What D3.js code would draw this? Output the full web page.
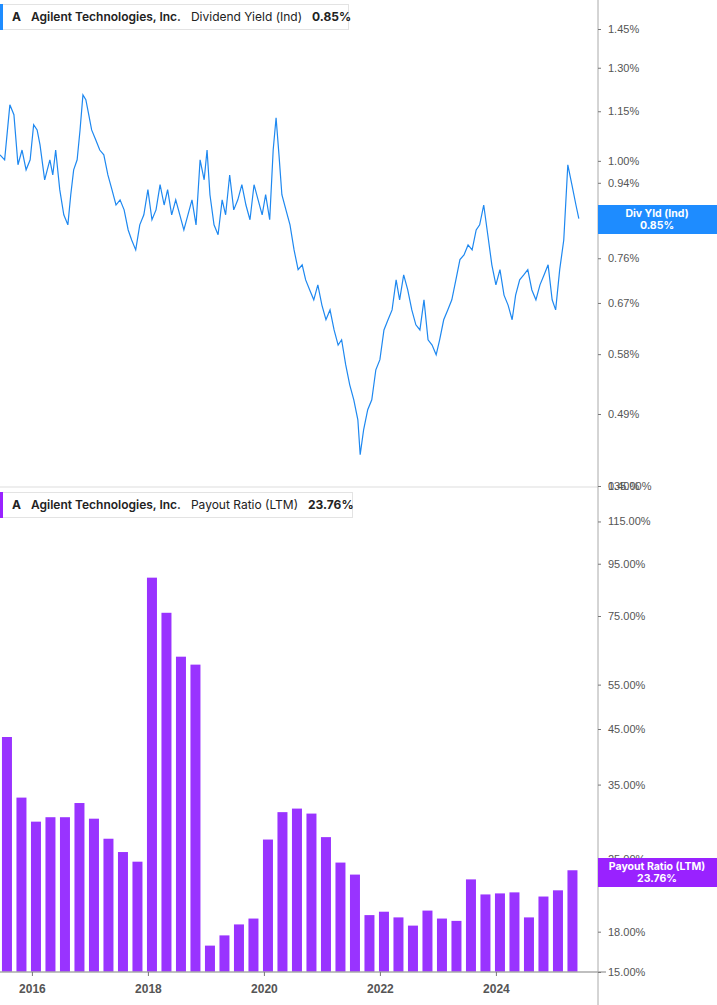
<!DOCTYPE html>
<html><head><meta charset="utf-8">
<script src="https://cdn.jsdelivr.net/npm/d3@7"></script>
<style>body{margin:0;background:#fff;font-family:Inter,"Noto Sans",sans-serif}</style>
</head><body>
<script>
// dividend yield (%), decimal year
const yieldDates = [2015.45,2015.53,2015.62,2015.69,2015.76,2015.83,2015.90,2015.97,2016.03,2016.09,2016.14,2016.22,2016.31,2016.36,2016.41,2016.48,2016.55,2016.62,2016.67,2016.72,2016.78,2016.83,2016.88,2016.93,2016.98,2017.03,2017.10,2017.17,2017.24,2017.31,2017.38,2017.45,2017.52,2017.59,2017.66,2017.72,2017.79,2017.86,2017.93,2018.00,2018.07,2018.14,2018.21,2018.28,2018.34,2018.41,2018.48,2018.55,2018.62,2018.69,2018.76,2018.83,2018.90,2018.97,2019.02,2019.07,2019.14,2019.21,2019.28,2019.34,2019.41,2019.48,2019.55,2019.62,2019.69,2019.76,2019.83,2019.90,2019.97,2020.03,2020.10,2020.16,2020.21,2020.26,2020.31,2020.38,2020.45,2020.52,2020.59,2020.66,2020.72,2020.79,2020.86,2020.93,2021.00,2021.07,2021.14,2021.21,2021.28,2021.34,2021.41,2021.48,2021.55,2021.62,2021.66,2021.72,2021.79,2021.86,2021.93,2022.00,2022.07,2022.14,2022.21,2022.28,2022.34,2022.41,2022.48,2022.55,2022.62,2022.69,2022.76,2022.83,2022.90,2022.97,2023.03,2023.10,2023.17,2023.24,2023.31,2023.38,2023.45,2023.52,2023.59,2023.66,2023.72,2023.79,2023.86,2023.93,2024.00,2024.07,2024.14,2024.21,2024.28,2024.34,2024.41,2024.48,2024.55,2024.62,2024.69,2024.76,2024.83,2024.90,2024.97,2025.03,2025.10,2025.17,2025.24,2025.31,2025.38,2025.43];
const yieldValues = [1.017,1.003,1.171,1.139,0.989,1.031,0.975,1.003,1.107,1.091,1.046,0.948,1.003,0.961,1.031,0.922,0.859,0.835,0.909,0.975,1.003,1.091,1.204,1.188,1.139,1.091,1.061,1.031,1.017,0.961,0.922,0.883,0.896,0.871,0.823,0.800,0.778,0.835,0.859,0.922,0.847,0.871,0.935,0.883,0.922,0.859,0.896,0.859,0.823,0.859,0.896,0.835,1.003,0.948,1.031,0.909,0.835,0.812,0.896,0.859,0.961,0.871,0.896,0.935,0.883,0.847,0.935,0.896,0.859,0.909,0.847,1.031,1.129,1.017,0.909,0.871,0.835,0.778,0.736,0.746,0.715,0.695,0.676,0.705,0.666,0.639,0.657,0.621,0.595,0.604,0.563,0.532,0.510,0.482,0.437,0.469,0.496,0.510,0.555,0.571,0.621,0.639,0.657,0.715,0.676,0.725,0.695,0.657,0.630,0.621,0.676,0.604,0.595,0.579,0.604,0.639,0.657,0.676,0.715,0.757,0.767,0.789,0.778,0.823,0.835,0.883,0.812,0.746,0.705,0.736,0.685,0.666,0.639,0.685,0.715,0.725,0.736,0.695,0.676,0.705,0.725,0.746,0.676,0.657,0.736,0.800,0.989,0.935,0.883,0.850];
const yieldTicks = [0.40,0.49,0.58,0.67,0.76,0.85,0.94,1.00,1.15,1.30,1.45];

// payout ratio (%), quarterly 2015Q3..2025Q2
const quarters = ["2015Q3","2015Q4","2016Q1","2016Q2","2016Q3","2016Q4","2017Q1","2017Q2","2017Q3","2017Q4","2018Q1","2018Q2","2018Q3","2018Q4","2019Q1","2019Q2","2019Q3","2019Q4","2020Q1","2020Q2","2020Q3","2020Q4","2021Q1","2021Q2","2021Q3","2021Q4","2022Q1","2022Q2","2022Q3","2022Q4","2023Q1","2023Q2","2023Q3","2023Q4","2024Q1","2024Q2","2024Q3","2024Q4","2025Q1","2025Q2"];
const payoutValues = [43.4,33.0,29.6,30.2,30.2,32.2,30.0,27.4,25.8,24.7,89.2,76.1,62.4,60.2,16.9,17.7,18.6,19.1,27.3,30.9,31.4,30.7,27.6,24.6,23.3,19.4,19.7,19.2,18.5,19.8,19.1,18.9,22.8,21.3,21.4,21.5,19.2,21.1,21.7,23.76];
const payoutTicks = [15,18,25,35,45,55,75,95,115,135];
const yearTicks = [2016,2018,2020,2022,2024];

const W = 717, H = 1005, axX = 598;
const svg = d3.select('body').append('svg').attr('width', W).attr('height', H);

const x = d3.scaleLinear().domain([2015.45, 2016]).range([0, 32]);
x.domain([2015.45, 2015.45 + axX / 58]).range([0, axX]);

const yTop = d3.scaleLog().domain([0.40, 1.45]).range([486, 29]);
const yBot = d3.scaleLog().domain([15, 135]).range([972, 486]);

const gray = '#777';
// divider and axis lines
svg.append('line').attr('x1', 0).attr('x2', axX).attr('y1', 487).attr('y2', 487).attr('stroke', '#ddd');
svg.append('line').attr('x1', axX).attr('x2', axX).attr('y1', 0).attr('y2', H).attr('stroke', '#aaa');

// top line
svg.append('path')
  .datum(yieldDates.map((d, i) => [d, yieldValues[i]]))
  .attr('d', d3.line().x(d => x(d[0])).y(d => yTop(d[1])))
  .attr('fill', 'none').attr('stroke', '#1e88f0').attr('stroke-width', 1.2);

// bars
const qDate = q => +q.slice(0, 4) + (+q[5] - 1) / 4 + 0.07;
svg.append('g').selectAll('rect').data(quarters).join('rect')
  .attr('x', q => x(qDate(q)) - 5)
  .attr('width', 10)
  .attr('y', (q, i) => yBot(payoutValues[i]))
  .attr('height', (q, i) => 972 - yBot(payoutValues[i]))
  .attr('fill', '#9933ff');

svg.append('line').attr('x1', 0).attr('x2', 606).attr('y1', 972).attr('y2', 972).attr('stroke', '#aaa').attr('stroke-width', 1.5);

const axisR = (scale, ticks) => g => g.call(d3.axisRight(scale).tickValues(ticks)
    .tickFormat(d => d3.format('.2f')(d) + '%').tickSize(3).tickPadding(7))
  .call(g => g.select('.domain').remove())
  .call(g => g.selectAll('line').attr('stroke', gray))
  .call(g => g.selectAll('text').attr('fill', '#555').attr('font-size', 11));

svg.append('g').attr('transform', `translate(${axX},0)`).call(axisR(yTop, yieldTicks));
svg.append('g').attr('transform', `translate(${axX},0)`).call(axisR(yBot, payoutTicks));

svg.append('g').attr('transform', 'translate(0,972)')
  .call(d3.axisBottom(x).tickValues(yearTicks).tickFormat(d3.format('d')).tickSize(4).tickPadding(8))
  .call(g => g.select('.domain').remove())
  .call(g => g.selectAll('line').attr('stroke', gray))
  .call(g => g.selectAll('text').attr('fill', '#555').attr('font-size', 12).attr('font-weight', 'bold'));

// value tags
function tag(y0, color, l1, l2) {
  svg.append('rect').attr('x', axX).attr('y', y0).attr('width', W - axX).attr('height', 29).attr('fill', color);
  svg.append('text').attr('x', 657).attr('y', y0 + 12).attr('text-anchor', 'middle').attr('fill', '#fff')
    .attr('font-size', 10.5).attr('font-weight', 'bold').text(l1);
  svg.append('text').attr('x', 657).attr('y', y0 + 24).attr('text-anchor', 'middle').attr('fill', '#fff')
    .attr('font-size', 10.5).attr('font-weight', 'bold').text(l2);
}
tag(205, '#1e8cff', 'Div Yld (Ind)', '0.85%');
tag(858, '#9922ff', 'Payout Ratio (LTM)', '23.76%');

// legends
function legend(y0, w, color, label, value) {
  svg.append('rect').attr('x', 0.5).attr('y', y0 + 0.5).attr('width', w).attr('height', 25)
    .attr('fill', '#fff').attr('stroke', '#e3e3e3');
  svg.append('rect').attr('x', 0).attr('y', y0).attr('width', 3).attr('height', 26).attr('fill', color);
  const t = svg.append('text').attr('x', 12).attr('y', y0 + 17).attr('font-size', 12).attr('fill', '#222');
  t.append('tspan').attr('font-weight', 'bold').text('A');
  t.append('tspan').attr('dx', 10).attr('font-weight', 600).text('Agilent Technologies, Inc.');
  t.append('tspan').attr('dx', 10).text(label);
  t.append('tspan').attr('dx', 10).attr('font-weight', 'bold').text(value);
}
legend(4, 348, '#1e8cff', 'Dividend Yield (Ind)', '0.85%');
legend(492, 352, '#9922ff', 'Payout Ratio (LTM)', '23.76%');
</script>
</body></html>
